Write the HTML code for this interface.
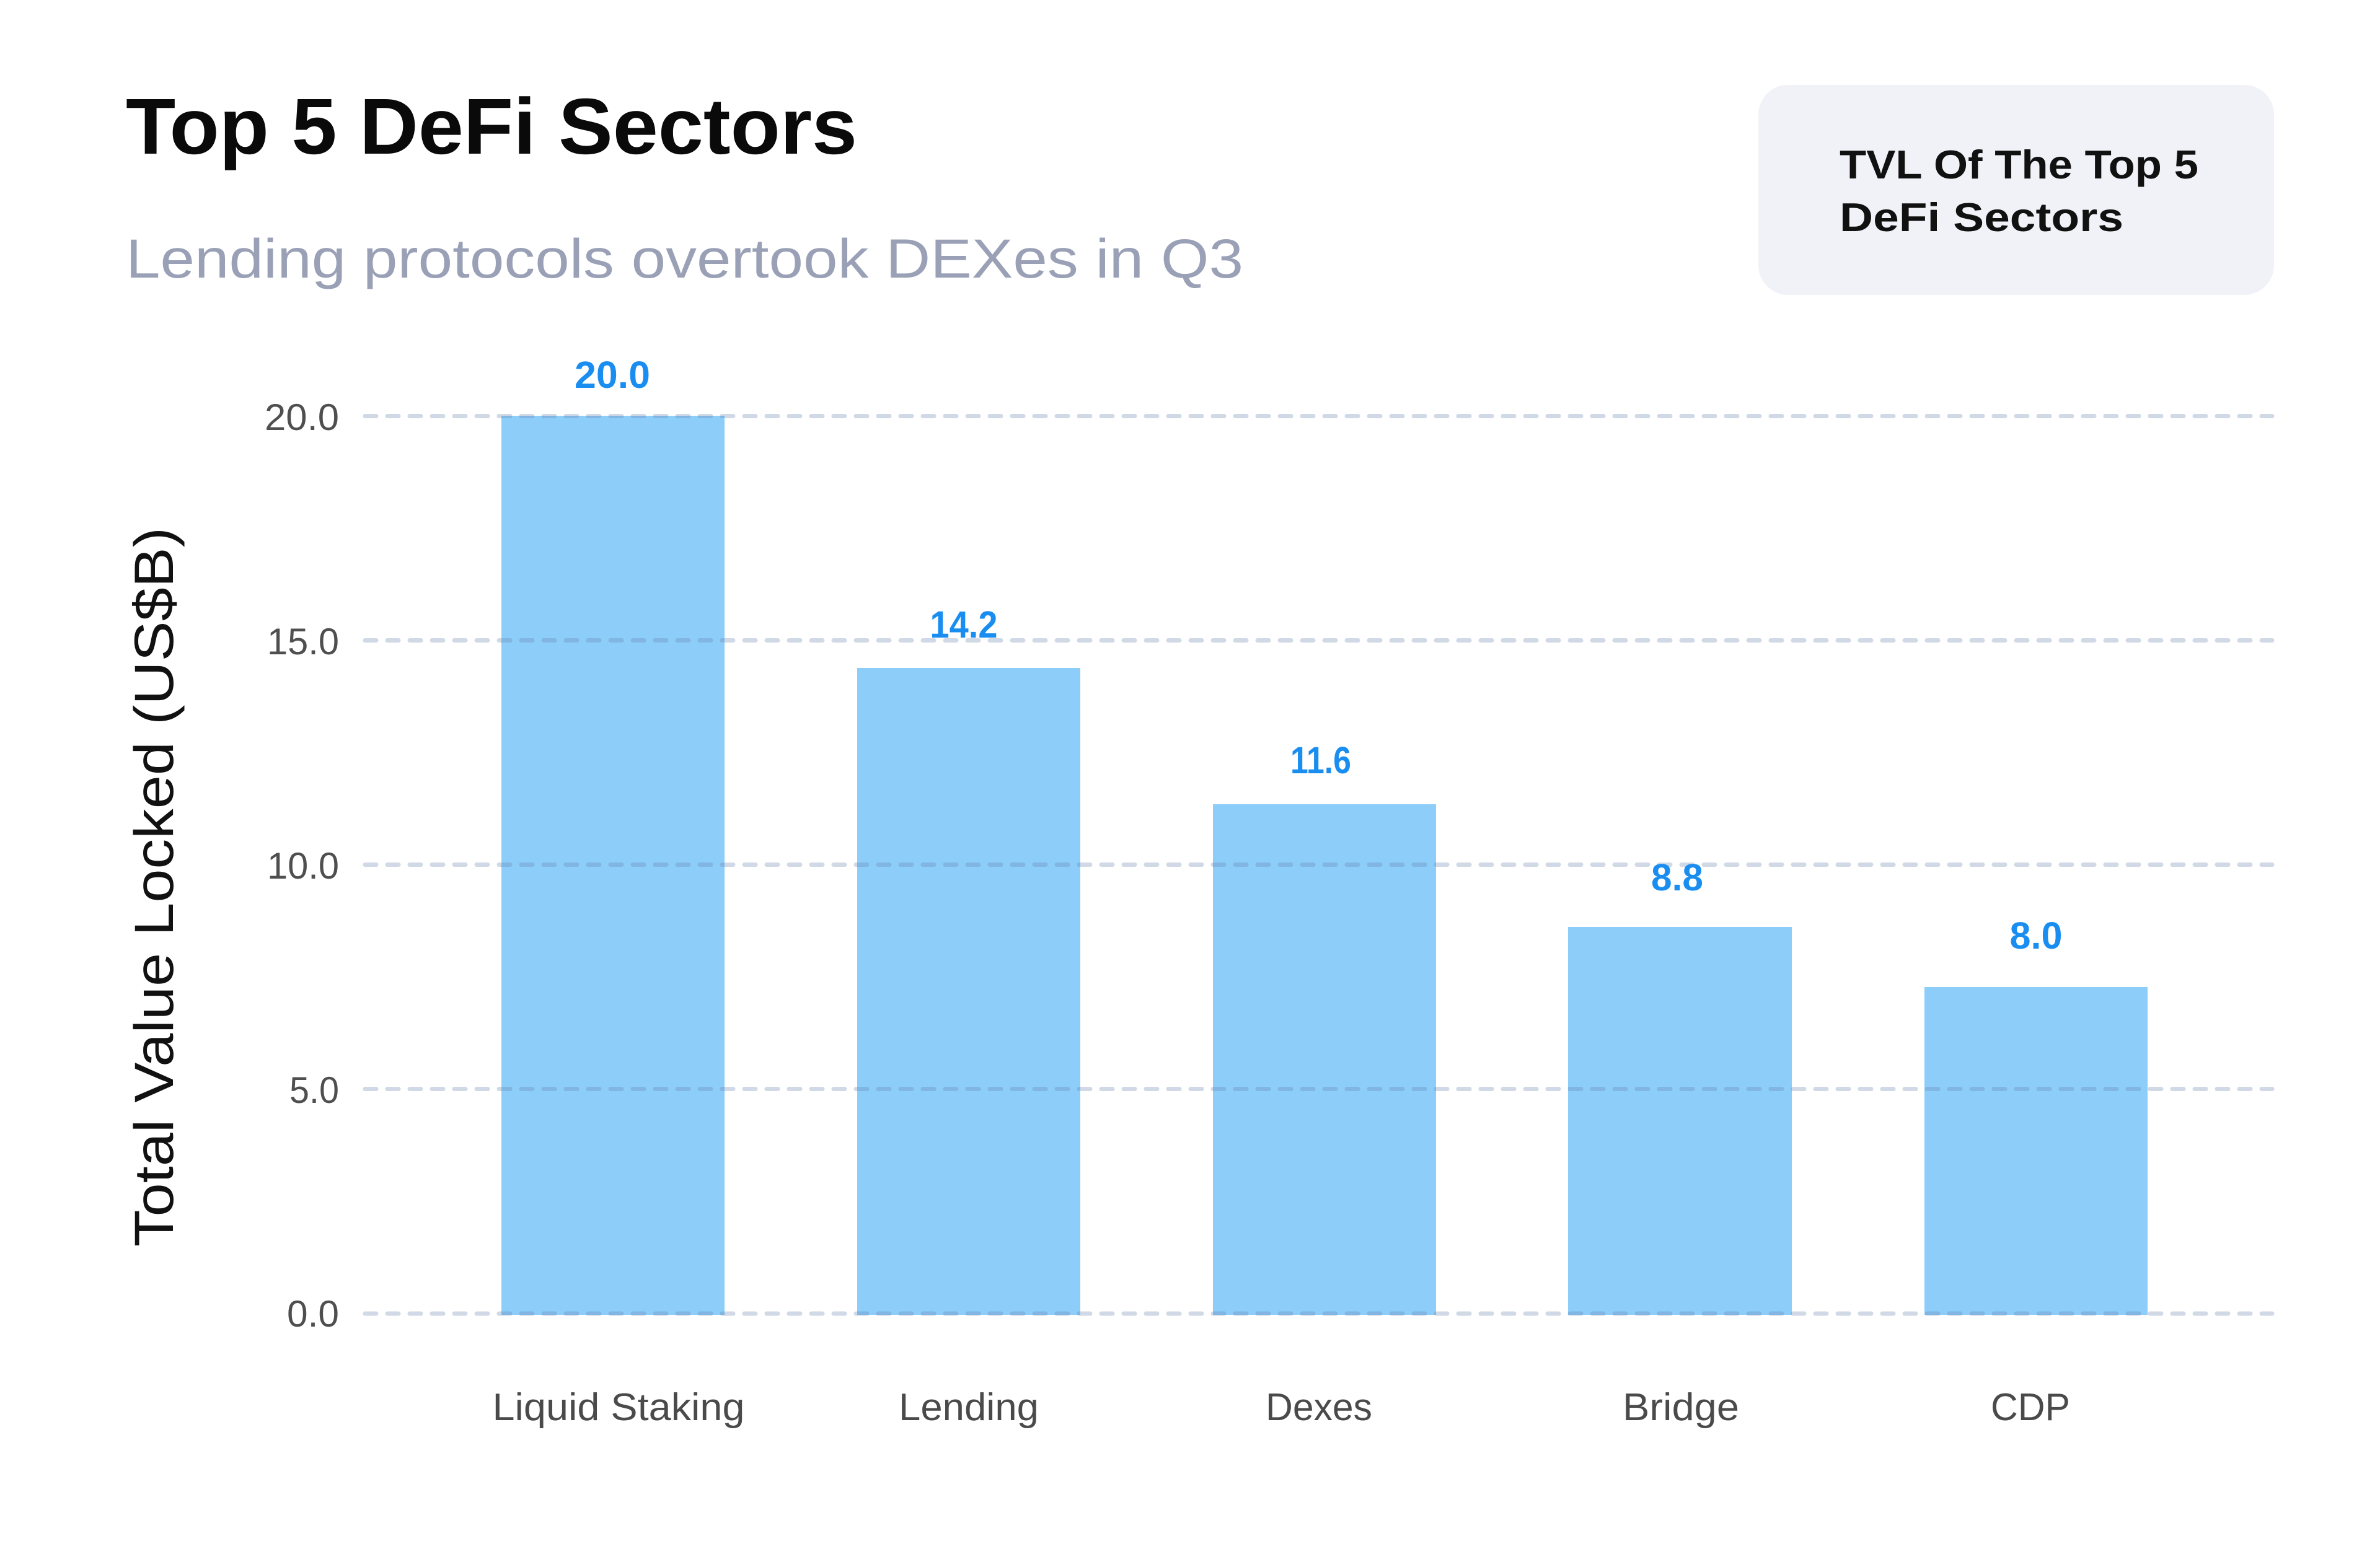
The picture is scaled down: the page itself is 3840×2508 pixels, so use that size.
<!DOCTYPE html>
<html>
<head>
<meta charset="utf-8">
<style>
  html, body { margin: 0; padding: 0; background: #ffffff; }
  body { width: 3840px; height: 2508px; overflow: hidden; }
  svg { display: block; }
  text { font-family: "Liberation Sans", "DejaVu Sans", sans-serif; }
</style>
</head>
<body>
<svg width="3840" height="2508" viewBox="0 0 3840 2508" xmlns="http://www.w3.org/2000/svg">
  <rect x="0" y="0" width="3840" height="2508" fill="#ffffff"/>

  <!-- Title -->
  <text x="203" y="248" font-size="128" font-weight="700" fill="#0a0a0a" textLength="1180" lengthAdjust="spacingAndGlyphs">Top 5 DeFi Sectors</text>
  <!-- Subtitle -->
  <text x="203" y="448" font-size="89" fill="#9aa1b6" textLength="1803" lengthAdjust="spacingAndGlyphs">Lending protocols overtook DEXes in Q3</text>

  <!-- Legend-like box -->
  <rect x="2837" y="137" width="832" height="339" rx="48" ry="48" fill="#f1f2f7"/>
  <text x="2968" y="288" font-size="65" font-weight="700" fill="#111111" textLength="579" lengthAdjust="spacingAndGlyphs">TVL Of The Top 5</text>
  <text x="2968" y="373" font-size="65" font-weight="700" fill="#111111" textLength="458" lengthAdjust="spacingAndGlyphs">DeFi Sectors</text>

  <!-- Bars -->
  <g fill="#8dcdf9">
    <rect x="809" y="671" width="360" height="1451"/>
    <rect x="1383" y="1078" width="360" height="1044"/>
    <rect x="1957" y="1298" width="360" height="824"/>
    <rect x="2530" y="1496" width="361" height="626"/>
    <rect x="3105" y="1593" width="360" height="529"/>
  </g>

  <!-- Gridlines (on top of bars, semi-transparent) -->
  <g stroke="#6482aa" stroke-opacity="0.3" stroke-width="7" stroke-dasharray="18 18" stroke-linecap="round" fill="none">
    <line x1="589" y1="671.5" x2="3666" y2="671.5"/>
    <line x1="589" y1="1033.5" x2="3666" y2="1033.5"/>
    <line x1="589" y1="1395.5" x2="3666" y2="1395.5"/>
    <line x1="589" y1="1757.5" x2="3666" y2="1757.5"/>
    <line x1="589" y1="2120" x2="3666" y2="2120"/>
  </g>

  <!-- Y tick labels -->
  <g font-size="60" fill="#4f4f4f" text-anchor="end">
    <text x="547" y="694" textLength="120" lengthAdjust="spacingAndGlyphs">20.0</text>
    <text x="547" y="1056" textLength="116" lengthAdjust="spacingAndGlyphs">15.0</text>
    <text x="547" y="1418" textLength="116" lengthAdjust="spacingAndGlyphs">10.0</text>
    <text x="547" y="1780" textLength="80" lengthAdjust="spacingAndGlyphs">5.0</text>
    <text x="547" y="2141" textLength="84" lengthAdjust="spacingAndGlyphs">0.0</text>
  </g>

  <!-- Value labels -->
  <g font-size="61" font-weight="700" fill="#1a8ef0" text-anchor="middle">
    <text x="988" y="626" textLength="122" lengthAdjust="spacingAndGlyphs">20.0</text>
    <text x="1555" y="1029" textLength="109" lengthAdjust="spacingAndGlyphs">14.2</text>
    <text x="2131" y="1248" textLength="98" lengthAdjust="spacingAndGlyphs">11.6</text>
    <text x="2706" y="1437" textLength="84" lengthAdjust="spacingAndGlyphs">8.8</text>
    <text x="3285" y="1531" textLength="85" lengthAdjust="spacingAndGlyphs">8.0</text>
  </g>

  <!-- Category labels -->
  <g font-size="62" fill="#4a4a4a" text-anchor="middle">
    <text x="998" y="2292" textLength="407" lengthAdjust="spacingAndGlyphs">Liquid Staking</text>
    <text x="1563" y="2292" textLength="226" lengthAdjust="spacingAndGlyphs">Lending</text>
    <text x="2128" y="2292" textLength="172" lengthAdjust="spacingAndGlyphs">Dexes</text>
    <text x="2712" y="2292" textLength="188" lengthAdjust="spacingAndGlyphs">Bridge</text>
    <text x="3276" y="2292" textLength="128" lengthAdjust="spacingAndGlyphs">CDP</text>
  </g>

  <!-- Y axis title -->
  <text transform="translate(279,1431.5) rotate(-90)" x="0" y="0" font-size="89" fill="#111111" text-anchor="middle" textLength="1161" lengthAdjust="spacingAndGlyphs">Total Value Locked (US$B)</text>
</svg>
</body>
</html>
